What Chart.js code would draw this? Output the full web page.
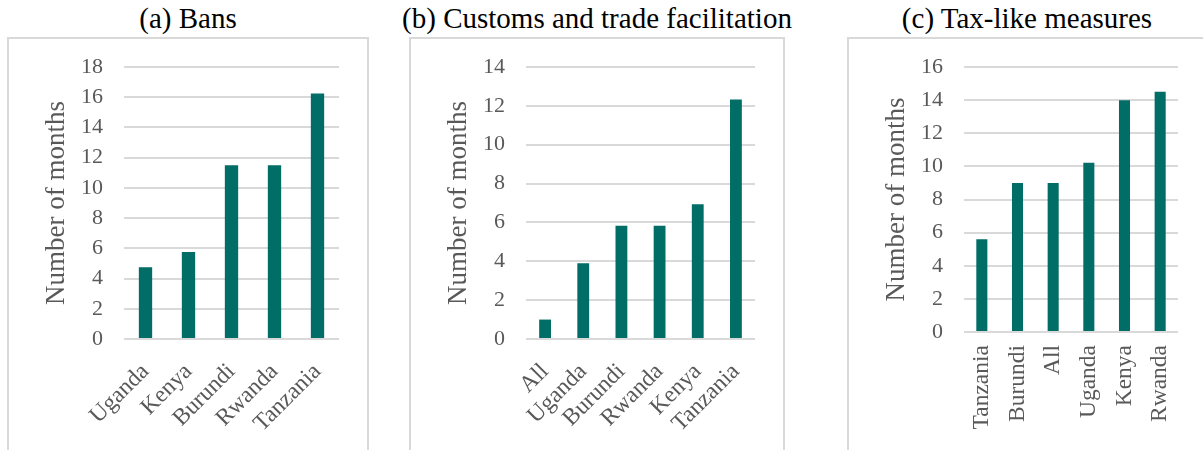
<!DOCTYPE html>
<html>
<head>
<meta charset="utf-8">
<script src="https://cdn.jsdelivr.net/npm/chart.js@4.4.1/dist/chart.umd.min.js"></script>
<style>
  html, body { margin: 0; padding: 0; background: #fff; overflow: hidden; }
  body { width: 1203px; height: 450px; position: relative; font-family: "Liberation Serif", "Times New Roman", serif; }
  .title { position: absolute; top: 1px; font-size: 29px; color: #000; white-space: nowrap; text-align: center; line-height: 34px; }
  .box { position: absolute; top: 37px; height: 440px; border: 2px solid #d9d9d9; box-sizing: border-box; }
  .panel { position: absolute; top: 37px; height: 413px; }
</style>
</head>
<body>
<div class="title" style="left:88px;width:200px">(a) Bans</div>
<div class="title" style="left:397px;width:400px">(b) Customs and trade facilitation</div>
<div class="title" style="left:877px;width:300px">(c) Tax-like measures</div>

<div class="box" style="left:7px;width:362px"></div>
<div class="box" style="left:409px;width:376px"></div>
<div class="box" style="left:847px;width:370px"></div>

<div class="panel" style="left:8px;width:360px"><canvas id="chartBans"></canvas></div>
<div class="panel" style="left:410px;width:374px"><canvas id="chartCustoms"></canvas></div>
<div class="panel" style="left:848px;width:355px"><canvas id="chartTax"></canvas></div>

<script>
// months per country, one list per measure type
const bansCountries = ['Uganda', 'Kenya', 'Burundi', 'Rwanda', 'Tanzania'];
const bansMonths = [4.75, 5.75, 11.5, 11.5, 16.25];

const customsCountries = ['All', 'Uganda', 'Burundi', 'Rwanda', 'Kenya', 'Tanzania'];
const customsMonths = [1, 3.9, 5.83, 5.83, 6.93, 12.33];

const taxCountries = ['Tanzania', 'Burundi', 'All', 'Uganda', 'Kenya', 'Rwanda'];
const taxMonths = [5.6, 9, 9, 10.22, 14, 14.5];

const BAR = '#006d66';
const GRID = '#d9d9d9';
const TEXT = '#595959';
const FONT = "'Liberation Serif', 'Times New Roman', serif";

Chart.defaults.animation = false;
Chart.defaults.font.family = FONT;

function makeBars(id, labels, values, opts) {
  const ctx = document.getElementById(id).getContext('2d');
  return new Chart(ctx, {
    type: 'bar',
    data: {
      labels,
      datasets: [{ data: values, backgroundColor: BAR, barPercentage: 0.31, categoryPercentage: 1 }]
    },
    options: {
      responsive: true,
      maintainAspectRatio: false,
      layout: { padding: { left: 0, right: opts.padRight, top: 30, bottom: 0 } },
      plugins: { legend: { display: false }, tooltip: { enabled: false } },
      scales: {
        x: {
          grid: { display: false, drawTicks: false },
          border: { display: false },
          ticks: {
            color: TEXT, font: { size: 23.5 }, padding: opts.xPad,
            minRotation: opts.rotation, maxRotation: opts.rotation, autoSkip: false
          },
          // keep the plot area fixed regardless of label length
          afterFit(scale) {
            scale.height = opts.xHeight;
            scale.paddingLeft = 0; scale.paddingRight = 0;
          }
        },
        y: {
          min: 0, max: opts.max,
          grid: { color: GRID, lineWidth: 2, drawTicks: false },
          border: { display: false },
          ticks: { stepSize: 2, color: TEXT, font: { size: 22 }, padding: 21 },
          title: {
            display: true, text: 'Number of months', color: TEXT,
            font: { size: 27 }, padding: { top: 33, bottom: 0 }
          },
          afterFit(scale) {
            scale.width = 116;
            scale.paddingTop = 0; scale.paddingBottom = 0;
          }
        }
      }
    }
  });
}

makeBars('chartBans', bansCountries, bansMonths, { max: 18, padRight: 29, xHeight: 111, rotation: 45, xPad: 19 });
makeBars('chartCustoms', customsCountries, customsMonths, { max: 14, padRight: 29, xHeight: 111, rotation: 45, xPad: 19 });
makeBars('chartTax', taxCountries, taxMonths, { max: 16, padRight: 25, xHeight: 118, rotation: 90, xPad: 13 });
</script>
</body>
</html>
